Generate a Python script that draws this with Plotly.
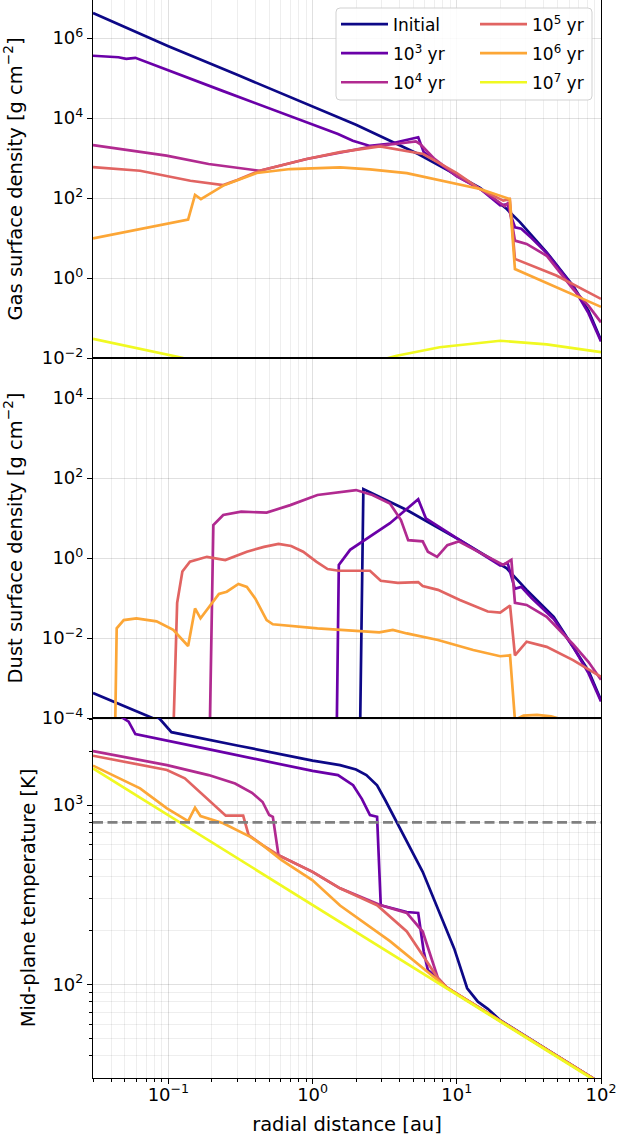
import math
import plotly.graph_objects as go
from plotly.subplots import make_subplots

# ---------------- data ----------------
# Gas surface density [g cm^-2]
r_gas_init = [0.03, 0.1, 0.3, 1.0, 2.0, 5.4, 10, 14.5, 22.2, 27.4, 42, 64, 82, 100]
gas_init = [4.2e6, 6.2e5, 1.2e5, 1.95e4, 6.8e3, 1.26e3, 370, 180, 53, 25, 4.4, 0.64, 0.15, 0.028]

r_gas_1e3 = [0.03, 0.045, 0.051, 0.059, 0.24, 1.0, 1.5, 1.9, 2.5, 3.5, 4.5, 5.4, 5.9, 10, 14.5,
             20, 22.5, 23.5, 25.3, 28, 33, 42, 64, 82, 100]
gas_1e3 = [3.6e5, 3.3e5, 3.0e5, 3.2e5, 4.7e4, 7.0e3, 4.0e3, 2.7e3, 2.0e3, 2.3e3, 2.8e3, 3.3e3, 1.4e3,
           350, 170, 66, 70, 40, 18.5, 17, 10, 4.2, 0.6, 0.13, 0.026]

r_gas_1e4 = [0.03, 0.097, 0.19, 0.3, 0.43, 0.91, 1.82, 2.6, 4.0, 5.2, 5.6, 7.0, 10, 14.5, 20, 21.5,
             22.8, 25.3, 30.5, 42, 64, 82, 100]
gas_1e4 = [2.1e3, 1.15e3, 708, 580, 480, 944, 1.5e3, 1.95e3, 2.3e3, 2.6e3, 2.2e3, 950, 360, 168, 75,
           62, 78, 8.6, 7.1, 3.6, 0.53, 0.2, 0.078]

r_gas_1e5 = [0.03, 0.0636, 0.142, 0.24, 0.3, 0.43, 0.91, 1.55, 2.93, 5.85, 10, 14.5, 21, 23.3, 25.3, 49, 100]
gas_1e5 = [590, 480, 270, 211, 280, 480, 944, 1.4e3, 1.96e3, 1.26e3, 420, 168, 86, 94, 3.0, 1.15, 0.3]

r_gas_1e6 = [0.03, 0.137, 0.153, 0.168, 0.24, 0.3, 0.41, 0.7, 1.0, 1.55, 2.5, 4.5, 14.5, 23.3, 25.3, 100]
gas_1e6 = [9.8, 28.7, 119, 94, 204, 280, 422, 530, 560, 585, 520, 420, 168, 94, 1.68, 0.19]

r_gas_1e7 = [0.03, 0.127, 0.4, 1.0, 2.0, 3.83, 7.6, 20, 42, 100]
gas_1e7 = [0.03, 0.01, 0.005, 0.004, 0.006, 0.0114, 0.0186, 0.027, 0.022, 0.014]

# Dust surface density [g cm^-2]
r_dust_init = [0.03, 0.1, 0.3, 1.0, 2.1, 2.25, 4.5, 10.5, 22.2, 30.5, 47, 64, 82, 100]
dust_init = [4.2e-4, 6.9e-5, 1.3e-5, 2.1e-6, 6.5e-7, 53, 15.8, 2.8, 0.55, 0.16, 0.034, 0.006, 0.0015, 2.8e-4]

r_dust_1e3 = [1.45, 1.52, 1.82, 2.5, 3.44, 5.4, 6.1, 10.5, 20, 22.5, 25.3, 28, 33, 47, 64, 82, 100]
dust_1e3 = [1e-6, 0.67, 1.6, 3.4, 7.4, 29.5, 9.8, 2.8, 0.65, 0.75, 0.17, 0.19, 0.1, 0.03, 0.006, 0.0013, 2.6e-4]

r_dust_1e4 = [0.19, 0.205, 0.24, 0.32, 0.48, 0.70, 1.08, 1.82, 2.0, 2.6, 3.44, 4.1, 4.6, 5.8, 6.3, 7.3,
              8.6, 10.3, 15, 21, 23.9, 25.3, 30.5, 42, 64, 82, 100]
dust_1e4 = [1e-6, 6.7, 11.9, 14.4, 13.6, 21, 37.6, 48, 50, 37.6, 23, 8.9, 2.8, 2.6, 1.44, 1.07,
            2.1, 2.6, 1.3, 0.67, 0.9, 0.076, 0.067, 0.034, 0.007, 0.0025, 9e-4]

r_dust_1e5 = [0.105, 0.115, 0.125, 0.141, 0.185, 0.248, 0.35, 0.46, 0.58, 0.71, 0.86, 1.06, 1.27, 1.52,
              2.5, 2.97, 3.9, 5.4, 5.8, 7.4, 10.5, 16.4, 20, 23.4, 25.3, 30.5, 42, 64, 100]
dust_1e5 = [1e-6, 0.076, 0.46, 0.81, 1.07, 0.89, 1.44, 1.9, 2.24, 2.0, 1.44, 0.81, 0.53, 0.48,
            0.48, 0.27, 0.24, 0.25, 0.2, 0.16, 0.089, 0.046, 0.043, 0.065, 0.0037, 0.0081, 0.006, 0.0028, 1.07e-3]

r_dust_1e6 = [0.042, 0.0438, 0.049, 0.060, 0.0828, 0.108, 0.137, 0.153, 0.167, 0.224, 0.254, 0.306, 0.35,
              0.4, 0.48, 0.53, 1.08, 1.55, 2.9, 3.6, 4.5, 7.4, 13, 20, 23.4, 25.3, 29, 36, 45, 55, 100]
dust_1e6 = [1e-6, 0.0175, 0.028, 0.031, 0.026, 0.016, 0.0063, 0.055, 0.031, 0.126, 0.144, 0.224, 0.19,
            0.098, 0.028, 0.022, 0.0175, 0.016, 0.0138, 0.016, 0.013, 0.0089, 0.005, 0.0035, 0.0037,
            9e-5, 1.15e-4, 1.2e-4, 1.1e-4, 9e-5, 3e-5]

# Mid-plane temperature [K]
r_T_init = [0.03, 0.06, 0.087, 0.105, 0.3, 1.0, 1.55, 2.0, 2.36, 2.8, 3.2, 3.83, 5.8, 9.6, 11.8, 14, 16.4, 20, 50, 100]
T_init = [4500, 3700, 3030, 2550, 2150, 1770, 1670, 1580, 1470, 1290, 1060, 807, 424, 158, 95, 80, 73, 63, 39.6, 28]

r_T_1e3 = [0.03, 0.0486, 0.053, 0.059, 0.2, 0.5, 1.0, 1.5, 1.91, 2.2, 2.5, 2.8, 2.97, 4.5, 5.4, 5.9, 6.3,
           7.4, 8.5, 10, 20, 50, 100]
T_1e3 = [4200, 3050, 2920, 2490, 2030, 1740, 1550, 1470, 1290, 1080, 880, 860, 276, 253, 250, 152, 120,
         108, 96, 88.5, 62.6, 39.6, 28]

r_T_1e4 = [0.03, 0.0977, 0.19, 0.29, 0.38, 0.45, 0.5, 0.53, 0.58, 1.0, 1.55, 2.97, 4.5, 5.8, 7.4, 8.5, 10, 20, 50, 100]
T_1e4 = [2000, 1670, 1470, 1320, 1170, 1040, 880, 860, 525, 424, 343, 276, 250, 197, 108, 96, 88.5, 62.6, 39.6, 28]

r_T_1e5 = [0.03, 0.0977, 0.13, 0.185, 0.25, 0.33, 0.36, 0.45, 0.58, 1.0, 1.55, 2.8, 4.5, 5.8, 7.4, 8.5,
           10, 20, 50, 100]
T_1e5 = [1885, 1570, 1410, 1090, 872, 872, 680, 598, 525, 424, 343, 276, 197, 145, 108, 96,
         88.5, 62.6, 39.6, 28]

r_T_1e6 = [0.03, 0.0636, 0.0977, 0.137, 0.153, 0.167, 0.24, 0.37, 0.45, 0.61, 1.0, 1.55, 3.44, 8.5,
           10, 20, 50, 100]
T_1e6 = [1660, 1240, 958, 813, 966, 868, 791, 665, 598, 493, 380, 275, 174, 96, 88.5, 62.6, 39.6, 28]

r_T_1e7 = [0.03, 0.1, 0.3, 1.0, 3.0, 10, 30, 100]
T_1e7 = [1600, 876, 506, 277, 160, 87.6, 50.6, 27.7]

threshold_T = 800          # dashed line [K]
x_range = [0.03, 100]      # radial range [au]

series_names = ["Initial", "10<sup>3</sup> yr", "10<sup>4</sup> yr",
                "10<sup>5</sup> yr", "10<sup>6</sup> yr", "10<sup>7</sup> yr"]

x_tickvals = [0.1, 1, 10, 100]
x_ticktext = ["10<sup>\u22121</sup>", "10<sup>0</sup>", "10<sup>1</sup>", "10<sup>2</sup>"]
gas_tickvals = [1e-2, 1, 1e2, 1e4, 1e6]
gas_ticktext = ["10<sup>\u22122</sup>", "10<sup>0</sup>", "10<sup>2</sup>", "10<sup>4</sup>", "10<sup>6</sup>"]
dust_tickvals = [1e-4, 1e-2, 1, 1e2, 1e4]
dust_ticktext = ["10<sup>\u22124</sup>", "10<sup>\u22122</sup>", "10<sup>0</sup>", "10<sup>2</sup>", "10<sup>4</sup>"]
T_tickvals = [100, 1000]
T_ticktext = ["10<sup>2</sup>", "10<sup>3</sup>"]

# ---------------- styling ----------------
colors = ["#0d0887", "#6a00a8", "#b12a90", "#e16462", "#fca636", "#f0f921"]
legend_ids = ["legend", "legend", "legend", "legend2", "legend2", "legend2"]
LW = 2.7
FONT = "DejaVu Sans"
GRID_MAJOR = "rgba(0,0,0,0.12)"
GRID_MINOR = "rgba(0,0,0,0.065)"

W, H = 621, 1141
ML, MR, MT, MB = 93, 20, 0, 63
PW, PH = W - ML - MR, H - MT - MB

gas_r = [r_gas_init, r_gas_1e3, r_gas_1e4, r_gas_1e5, r_gas_1e6, r_gas_1e7]
gas_v = [gas_init, gas_1e3, gas_1e4, gas_1e5, gas_1e6, gas_1e7]
dust_r = [r_dust_init, r_dust_1e3, r_dust_1e4, r_dust_1e5, r_dust_1e6]
dust_v = [dust_init, dust_1e3, dust_1e4, dust_1e5, dust_1e6]
T_r = [r_T_init, r_T_1e3, r_T_1e4, r_T_1e5, r_T_1e6, r_T_1e7]
T_v = [T_init, T_1e3, T_1e4, T_1e5, T_1e6, T_1e7]

fig = make_subplots(rows=3, cols=1, shared_xaxes=True, vertical_spacing=0,
                    row_heights=[358, 360, 360])

for i in range(6):
    fig.add_trace(go.Scatter(x=gas_r[i], y=gas_v[i], mode="lines", name=series_names[i],
                             line=dict(color=colors[i], width=LW), legend=legend_ids[i],
                             legendgroup="g%d" % i, showlegend=True), row=1, col=1)
for i in range(len(dust_r)):
    fig.add_trace(go.Scatter(x=dust_r[i], y=dust_v[i], mode="lines", name=series_names[i],
                             line=dict(color=colors[i], width=LW), legendgroup="g%d" % i,
                             showlegend=False), row=2, col=1)
for i in range(6):
    fig.add_trace(go.Scatter(x=T_r[i], y=T_v[i], mode="lines", name=series_names[i],
                             line=dict(color=colors[i], width=LW), legendgroup="g%d" % i,
                             showlegend=False), row=3, col=1)
fig.add_trace(go.Scatter(x=x_range, y=[threshold_T, threshold_T], mode="lines",
                         line=dict(color="#808080", width=2.6, dash="10px,4.5px"),
                         showlegend=False, hoverinfo="skip"), row=3, col=1)

x_minor = [m * 10 ** e for e in (-2, -1, 0, 1) for m in range(2, 10)
           if x_range[0] <= m * 10 ** e <= x_range[1]]
T_minor = [m * 10 ** e for e in (1, 2, 3) for m in range(2, 10) if 35 <= m * 10 ** e <= 3000]

tickfont = dict(family=FONT, size=18, color="black")
titlefont = dict(family=FONT, size=19.5, color="black")

for k in (1, 2, 3):
    bottom = (k == 3)
    fig.update_xaxes(
        row=k, col=1, type="log", range=[math.log10(x_range[0]), math.log10(x_range[1])],
        showline=True, linecolor="black", linewidth=1.1, mirror=True,
        showgrid=True, gridcolor=GRID_MAJOR, gridwidth=1,
        tickmode="array", tickvals=x_tickvals, ticktext=x_ticktext,
        ticks="outside" if bottom else "", ticklen=5, tickwidth=1, tickcolor="black",
        showticklabels=bottom, tickfont=tickfont, zeroline=False,
        minor=dict(tickmode="array", tickvals=x_minor, showgrid=True, gridcolor=GRID_MINOR,
                   gridwidth=1, ticks="outside" if bottom else "", ticklen=3, tickwidth=0.8,
                   tickcolor="black"),
    )

fig.update_xaxes(row=3, col=1, title=dict(text="radial distance [au]", font=titlefont, standoff=13),
                 automargin=True, ticklabelstandoff=-5)

common_y = dict(type="log", showline=True, linecolor="black", linewidth=1.1, mirror=True,
                showgrid=True, gridcolor=GRID_MAJOR, gridwidth=1, ticks="outside", ticklen=5,
                tickwidth=1, tickcolor="black", tickfont=tickfont, zeroline=False,
                tickmode="array", automargin=True)

fig.update_yaxes(row=1, col=1, range=[-2, 6.95], tickvals=gas_tickvals, ticktext=gas_ticktext,
                 title=dict(text="Gas surface density [g cm<sup>\u22122</sup>]", font=titlefont, standoff=14),
                 **common_y)
fig.update_yaxes(row=2, col=1, range=[-4, 5], tickvals=dust_tickvals, ticktext=dust_ticktext,
                 title=dict(text="Dust surface density [g cm<sup>\u22122</sup>]", font=titlefont, standoff=14),
                 **common_y)
fig.update_yaxes(row=3, col=1, range=[math.log10(30), math.log10(3060)], tickvals=T_tickvals,
                 ticktext=T_ticktext,
                 title=dict(text="Mid-plane temperature [K]", font=titlefont, standoff=11),
                 minor=dict(tickmode="array", tickvals=T_minor, showgrid=True, gridcolor=GRID_MINOR,
                            gridwidth=1, ticks="outside", ticklen=3, tickwidth=0.8, tickcolor="black"),
                 **common_y)

# legend box (two legend columns in one frame)
def px_x(px):
    return (px - ML) / PW

def px_y(py):
    return 1 - (py - MT) / PH

bx0, bx1, by0, by1, rad = 336, 592, 8, 100, 4
x0, x1 = px_x(bx0), px_x(bx1)
yt, yb = px_y(by0), px_y(by1)
rx, ry = rad / PW, rad / PH
path = (f"M{x0+rx},{yt} L{x1-rx},{yt} Q{x1},{yt} {x1},{yt-ry} L{x1},{yb+ry} Q{x1},{yb} {x1-rx},{yb} "
        f"L{x0+rx},{yb} Q{x0},{yb} {x0},{yb+ry} L{x0},{yt-ry} Q{x0},{yt} {x0+rx},{yt} Z")
fig.add_shape(type="path", path=path, xref="paper", yref="paper", layer="above",
              fillcolor="rgba(255,255,255,0.85)", line=dict(color="rgba(204,204,204,0.9)", width=1))

legend_style = dict(xanchor="left", yanchor="top", bgcolor="rgba(0,0,0,0)", borderwidth=0,
                    font=dict(family=FONT, size=17, color="black"), itemwidth=47,
                    tracegroupgap=4, orientation="v")
fig.update_layout(
    legend=dict(x=px_x(336), y=px_y(6.5), **legend_style),
    legend2=dict(x=px_x(475), y=px_y(6.5), **legend_style),
)

fig.update_layout(
    width=W, height=H, template="none",
    font=dict(family=FONT, color="black"),
    margin=dict(l=ML, r=MR, t=MT, b=MB, autoexpand=False),
    paper_bgcolor="white", plot_bgcolor="white",
    hovermode=False,
)

fig.write_html("out.html", config={"displayModeBar": False},
               post_script="document.body.style.margin='0px';")
